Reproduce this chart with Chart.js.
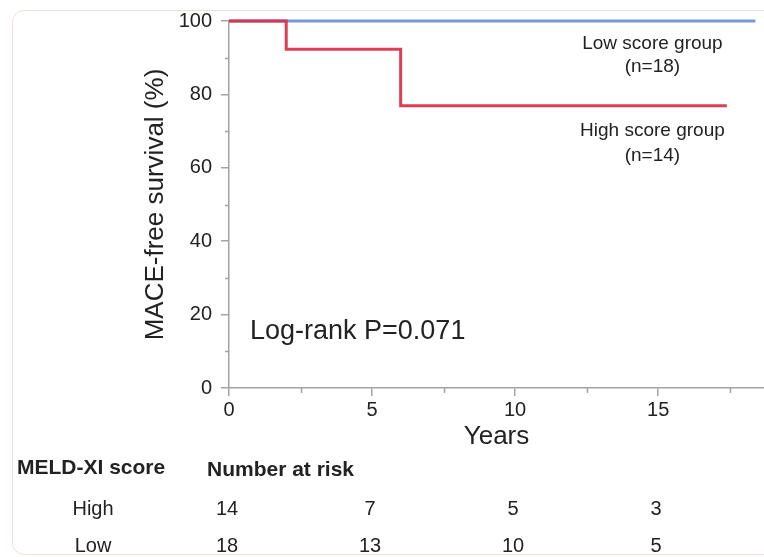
<!DOCTYPE html>
<html>
<head>
<meta charset="utf-8">
<script src="https://cdn.jsdelivr.net/npm/chart.js@4"></script>
<style>
  html, body { margin: 0; padding: 0; background: #fff; }
  #wrap { position: relative; width: 764px; height: 557px; overflow: hidden; }
  #frame { position: absolute; left: 12px; top: 10px; width: 800px; height: 543px;
           border: 1px solid #f4dedb; border-radius: 12px; }
  canvas { position: absolute; left: 0; top: 0; }
</style>
</head>
<body>
<div id="wrap">
  <div id="frame"></div>
  <canvas id="km" width="764" height="557"></canvas>
</div>
<script>
// Kaplan-Meier curves (years, % MACE-free)
const highTimes = [0, 2, 6, 17.4];
const highSurv = [100, 92.3, 76.9, 76.9];
const lowTimes = [0, 18.4];
const lowSurv = [100, 100];

// number at risk table
const riskTimes = [0, 5, 10, 15];
const riskHigh = [14, 7, 5, 3];
const riskLow = [18, 13, 10, 5];

const yMinor = [10, 30, 50, 70, 90];
const xMinor = [2.5, 7.5, 12.5, 17.5];

const AXIS = '#a3a3a3';
const TXT = '#222';
const FONT = '"Liberation Sans", Arial, sans-serif';

function toPoints(xs, ys) {
  return xs.map((x, i) => ({ x, y: ys[i] }));
}

const extras = {
  id: 'extras',
  afterDraw(chart) {
    const { ctx, scales: { x, y } } = chart;
    ctx.save();
    // minor ticks
    ctx.strokeStyle = AXIS;
    ctx.lineWidth = 1.5;
    yMinor.forEach(v => {
      const py = Math.round(y.getPixelForValue(v)) + 0.5;
      ctx.beginPath(); ctx.moveTo(x.left - 4, py); ctx.lineTo(x.left, py); ctx.stroke();
    });
    xMinor.forEach(v => {
      const px = Math.round(x.getPixelForValue(v)) + 0.5;
      ctx.beginPath(); ctx.moveTo(px, y.bottom); ctx.lineTo(px, y.bottom + 5); ctx.stroke();
    });

    ctx.fillStyle = TXT;
    ctx.textBaseline = 'middle';
    // group labels
    ctx.font = '19px ' + FONT;
    ctx.textAlign = 'center';
    const gx = x.getPixelForValue(14.8);
    ctx.fillText('Low score group', gx, 44);
    ctx.fillText('(n=18)', gx, 67);
    ctx.fillText('High score group', gx, 131);
    ctx.fillText('(n=14)', gx, 156);

    ctx.font = '27px ' + FONT;
    ctx.textAlign = 'left';
    ctx.fillText('Log-rank P=0.071', x.getPixelForValue(0) + 21, 332);

    // number at risk
    ctx.font = 'bold 21px ' + FONT;
    ctx.fillText('MELD-XI score', 17, 468);
    ctx.fillText('Number at risk', 207, 470);
    ctx.font = '20px ' + FONT;
    ctx.textAlign = 'center';
    ctx.fillText('High', 93, 509);
    ctx.fillText('Low', 93, 546);
    riskTimes.forEach((t, i) => {
      const px = x.getPixelForValue(t);
      ctx.fillText(String(riskHigh[i]), px - 2, 509);
      ctx.fillText(String(riskLow[i]), px - 2, 546);
    });
    ctx.restore();
  }
};

new Chart(document.getElementById('km'), {
  type: 'line',
  data: {
    datasets: [
      {
        label: 'High score group',
        data: toPoints(highTimes, highSurv),
        borderColor: 'rgba(219,44,72,0.92)',
        borderWidth: 3,
        stepped: true,
        pointRadius: 0,
        fill: false,
        clip: 6
      },
      {
        label: 'Low score group',
        data: toPoints(lowTimes, lowSurv),
        borderColor: '#7b98d6',
        borderWidth: 3,
        stepped: true,
        pointRadius: 0,
        fill: false,
        clip: 6
      }
    ]
  },
  options: {
    responsive: false,
    animation: false,
    layout: { padding: { top: 20, left: 0, right: 0, bottom: 0 } },
    plugins: { legend: { display: false }, tooltip: { enabled: false } },
    scales: {
      x: {
        type: 'linear',
        min: 0,
        max: 18.7,
        afterBuildTicks: s => { s.ticks = s.ticks.filter(t => t.value % 5 === 0); },
        afterFit: s => { s.height = 169; },
        ticks: { stepSize: 5, padding: 2, color: TXT, font: { family: FONT, size: 20 } },
        grid: { drawOnChartArea: false, tickLength: 8, color: AXIS, lineWidth: 1.5 },
        border: { color: AXIS, width: 1.5 },
        title: { display: true, text: 'Years', color: TXT,
                 font: { family: FONT, size: 26 }, padding: { top: 0, bottom: 105 } }
      },
      y: {
        min: 0,
        max: 100,
        afterFit: s => { s.width = 229; },
        ticks: { stepSize: 20, padding: 9, color: TXT, font: { family: FONT, size: 20 } },
        grid: { drawOnChartArea: false, tickLength: 8, color: AXIS, lineWidth: 1.5 },
        border: { color: AXIS, width: 1.5 },
        title: { display: true, text: 'MACE-free survival (%)', color: TXT,
                 font: { family: FONT, size: 26 }, padding: { top: 140, bottom: 0 } }
      }
    }
  },
  plugins: [extras]
});
</script>
</body>
</html>
